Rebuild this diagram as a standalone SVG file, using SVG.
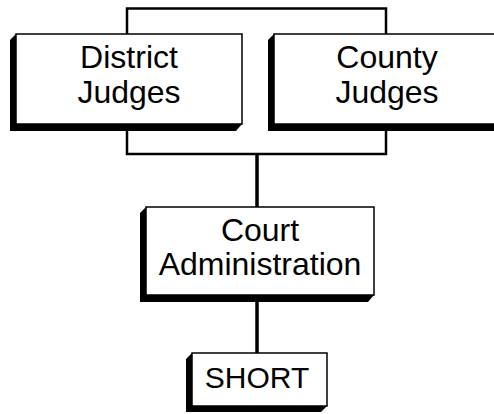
<svg xmlns="http://www.w3.org/2000/svg" width="494" height="414" viewBox="0 0 494 414">
  <style>
    .box { fill: #ffffff; stroke: #000000; stroke-width: 1.5; }
    .shadow { fill: #000000; }
    .wire { fill: none; stroke: #000000; stroke-width: 2.5; }
    .stem { fill: none; stroke: #000000; stroke-width: 3.5; }
    .label { font-family: "Liberation Sans", Arial, sans-serif; font-size: 32px; fill: #000000; text-anchor: middle; }
    .small { font-size: 30px; }
  </style>
  <rect width="494" height="414" fill="#ffffff"/>

  <!-- connectors -->
  <g id="connectors">
    <rect class="wire" x="127" y="8.5" width="259" height="145.5"/>
    <line class="stem" x1="257" y1="154" x2="257" y2="208"/>
    <line class="stem" x1="257" y1="300" x2="257" y2="354"/>
  </g>

  <!-- District Judges -->
  <g id="district-judges">
    <polygon class="shadow" points="16,34 10,40 10,131 236,131 242,124"/>
    <rect class="box" x="16" y="34" width="226" height="90"/>
    <text class="label" x="129" y="68">District</text>
    <text class="label" x="129" y="103">Judges</text>
  </g>

  <!-- County Judges -->
  <g id="county-judges">
    <polygon class="shadow" points="274,34 268,40 268,131 494,131 500,124"/>
    <rect class="box" x="274" y="34" width="226" height="90"/>
    <text class="label" x="387" y="68">County</text>
    <text class="label" x="387" y="103">Judges</text>
  </g>

  <!-- Court Administration -->
  <g id="court-administration">
    <polygon class="shadow" points="146,207 140,213 140,302 368,302 374,295"/>
    <rect class="box" x="146" y="207" width="228" height="88"/>
    <text class="label" x="260" y="241">Court</text>
    <text class="label" x="260" y="275">Administration</text>
  </g>

  <!-- SHORT -->
  <g id="short">
    <polygon class="shadow" points="192,353 186,359 186,412 321,412 327,406"/>
    <rect class="box" x="192" y="353" width="135" height="53"/>
    <text class="label small" x="257" y="388">SHORT</text>
  </g>
</svg>
